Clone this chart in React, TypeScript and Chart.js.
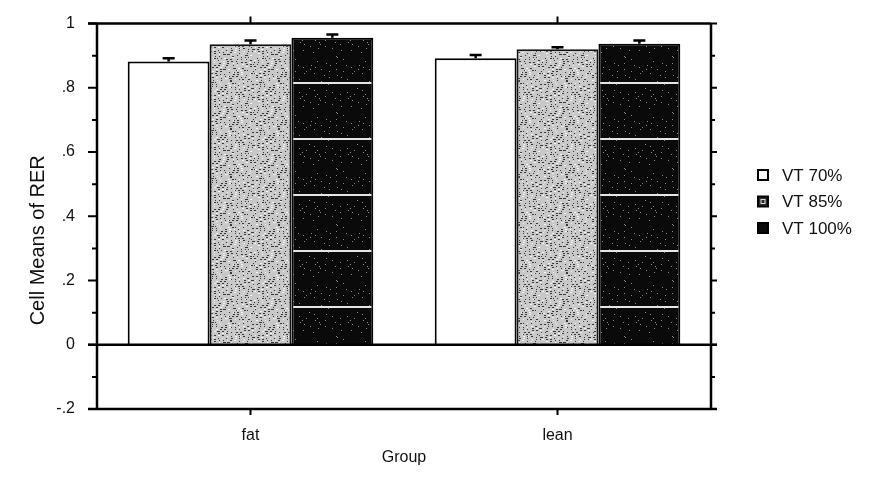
import React, { useEffect, useRef } from "react";
import { Chart, registerables } from "chart.js";

Chart.register(...registerables);

const categories = ["fat", "lean"];
const seriesLabels = ["VT 70%", "VT 85%", "VT 100%"];
const vt70 = [0.882, 0.892];
const vt85 = [0.936, 0.92];
const vt100 = [0.956, 0.937];
const err70 = [0.01, 0.01];
const err85 = [0.011, 0.006];
const err100 = [0.01, 0.01];
const yTickValues = [-0.2, -0.1, 0, 0.1, 0.2, 0.3, 0.4, 0.5, 0.6, 0.7, 0.8, 0.9, 1];

const FONT = "'Liberation Sans', Arial, sans-serif";

function makeSpecklePattern(): CanvasPattern | string {
  const c = document.createElement("canvas");
  c.width = 48;
  c.height = 48;
  const g = c.getContext("2d");
  if (!g) return "#bbbbbb";
  g.fillStyle = "#c8c8c8";
  g.fillRect(0, 0, 48, 48);
  for (let i = 0; i < 260; i++) {
    const x = (i * 37 + ((i * i) % 11)) % 48;
    const y = (i * 71 + ((i * 7) % 13)) % 48;
    g.fillStyle = i % 3 === 0 ? "#f4f4f4" : "#3a3a3a";
    g.fillRect(x, y, 1 + (i % 2), 1);
  }
  const p = g.createPattern(c, "repeat");
  return p || "#bbbbbb";
}

function makeDarkPattern(): CanvasPattern | string {
  const c = document.createElement("canvas");
  c.width = 48;
  c.height = 56;
  const g = c.getContext("2d");
  if (!g) return "#0b0b0b";
  g.fillStyle = "#0a0a0a";
  g.fillRect(0, 0, 48, 56);
  g.fillStyle = "#e6e6e6";
  g.fillRect(0, 26, 48, 2);
  for (let i = 0; i < 50; i++) {
    const x = (i * 29 + ((i * i) % 7)) % 48;
    const y = (i * 43 + ((i * 5) % 11)) % 56;
    g.fillStyle = "#8a8a8a";
    g.fillRect(x, y, 1, 1);
  }
  const p = g.createPattern(c, "repeat");
  return p || "#0b0b0b";
}

const decorPlugin = {
  id: "decor",
  afterDatasetsDraw(chart: any) {
    const { ctx, scales } = chart;
    const y = scales.y;
    ctx.save();
    ctx.strokeStyle = "#000";
    ctx.lineWidth = 2.5;
    chart.data.datasets.forEach((ds: any, di: number) => {
      const meta = chart.getDatasetMeta(di);
      meta.data.forEach((bar: any, i: number) => {
        const v = ds.data[i];
        const e = ds.errors[i];
        const yTop = y.getPixelForValue(v + e);
        ctx.beginPath();
        ctx.moveTo(bar.x, bar.y);
        ctx.lineTo(bar.x, yTop);
        ctx.moveTo(bar.x - 6, yTop);
        ctx.lineTo(bar.x + 6, yTop);
        ctx.stroke();
      });
    });
    ctx.restore();
  },
  afterDraw(chart: any) {
    const { ctx, chartArea, scales } = chart;
    const { left, right, top, bottom } = chartArea;
    const y = scales.y;
    const x = scales.x;
    ctx.save();
    ctx.strokeStyle = "#000";
    ctx.lineWidth = 2.5;
    ctx.lineCap = "butt";
    ctx.beginPath();
    ctx.moveTo(left - 9, top);
    ctx.lineTo(right, top);
    ctx.moveTo(left - 9, bottom);
    ctx.lineTo(right + 6, bottom);
    ctx.moveTo(left, top);
    ctx.lineTo(left, bottom);
    ctx.moveTo(right, top);
    ctx.lineTo(right, bottom);
    const y0 = y.getPixelForValue(0);
    ctx.moveTo(left - 9, y0);
    ctx.lineTo(right + 6, y0);
    ctx.stroke();
    ctx.lineWidth = 2;
    ctx.beginPath();
    yTickValues.forEach((v) => {
      const py = y.getPixelForValue(v);
      const major = Math.round(v * 10) % 2 === 0;
      ctx.moveTo(left - (major ? 9 : 5), py);
      ctx.lineTo(left, py);
      ctx.moveTo(right, py);
      ctx.lineTo(right + (major ? 6 : 4), py);
    });
    categories.forEach((_, i) => {
      const px = x.getPixelForValue(i);
      ctx.moveTo(px, top);
      ctx.lineTo(px, top - 7);
      ctx.moveTo(px, bottom);
      ctx.lineTo(px, bottom + 6);
    });
    ctx.stroke();

    ctx.fillStyle = "#111";
    ctx.font = `20px ${FONT}`;
    ctx.textAlign = "center";
    ctx.textBaseline = "middle";
    ctx.save();
    ctx.translate(38, (top + bottom) / 2 + 24);
    ctx.rotate(-Math.PI / 2);
    ctx.fillText("Cell Means of RER", 0, 0);
    ctx.restore();

    ctx.font = `17px ${FONT}`;
    ctx.textAlign = "left";
    const legendFills = ["#ffffff", "#2a2a2a", "#0a0a0a"];
    chart.data.datasets.forEach((ds: any, i: number) => {
      const cy = 175 + i * 26.5;
      const sx = 758;
      ctx.fillStyle = legendFills[i];
      ctx.fillRect(sx, cy - 5, 10, 10);
      ctx.lineWidth = 2;
      ctx.strokeStyle = "#000";
      ctx.strokeRect(sx, cy - 5, 10, 10);
      if (i === 1) {
        ctx.strokeStyle = "#ddd";
        ctx.lineWidth = 1;
        ctx.strokeRect(sx + 3, cy - 2, 4, 4);
      }
      ctx.fillStyle = "#111";
      ctx.fillText(ds.label, 782, cy + 1);
    });
    ctx.restore();
  },
};

export default function App() {
  const ref = useRef<HTMLCanvasElement | null>(null);

  useEffect(() => {
    if (!ref.current) return;
    const speckle = makeSpecklePattern();
    const dark = makeDarkPattern();
    const chart = new Chart(ref.current, {
      type: "bar",
      data: {
        labels: categories,
        datasets: [
          { label: seriesLabels[0], data: vt70, errors: err70, backgroundColor: "#ffffff", borderColor: "#000", borderWidth: 2 } as any,
          { label: seriesLabels[1], data: vt85, errors: err85, backgroundColor: speckle, borderColor: "#111", borderWidth: 2 } as any,
          { label: seriesLabels[2], data: vt100, errors: err100, backgroundColor: dark, borderColor: "#000", borderWidth: 2 } as any,
        ],
      },
      options: {
        responsive: false,
        animation: false,
        events: [],
        layout: { padding: { left: 0, top: 20, right: 176, bottom: 0 } },
        datasets: { bar: { barPercentage: 1, categoryPercentage: 0.8, borderSkipped: "bottom" } },
        plugins: { legend: { display: false }, tooltip: { enabled: false }, title: { display: false } },
        scales: {
          x: {
            grid: { display: false },
            border: { display: false },
            ticks: { color: "#111", font: { family: FONT, size: 16 }, padding: 9 },
            title: { display: true, text: "Group", color: "#111", font: { family: FONT, size: 16 }, padding: { top: 0, bottom: 17 } },
            afterFit: (s: any) => { s.height = 75; },
          },
          y: {
            min: -0.2,
            max: 1,
            grid: { display: false },
            border: { display: false },
            ticks: {
              stepSize: 0.1,
              color: "#111",
              font: { family: FONT, size: 16 },
              padding: 14,
              autoSkip: false,
              callback: (v: any) => {
                const r = Math.round(Number(v) * 10);
                if (r % 2 !== 0) return "";
                return (r / 10).toString().replace("0.", ".");
              },
            },
            afterFit: (s: any) => { s.width = 97; },
          },
        },
      },
      plugins: [decorPlugin],
    });
    return () => chart.destroy();
  }, []);

  return (
    <div style={{ position: "fixed", left: 0, top: 0, width: 887, height: 484, background: "#fff" }}>
      <canvas ref={ref} width={887} height={484} style={{ width: 887, height: 484, display: "block" }} />
    </div>
  );
}
